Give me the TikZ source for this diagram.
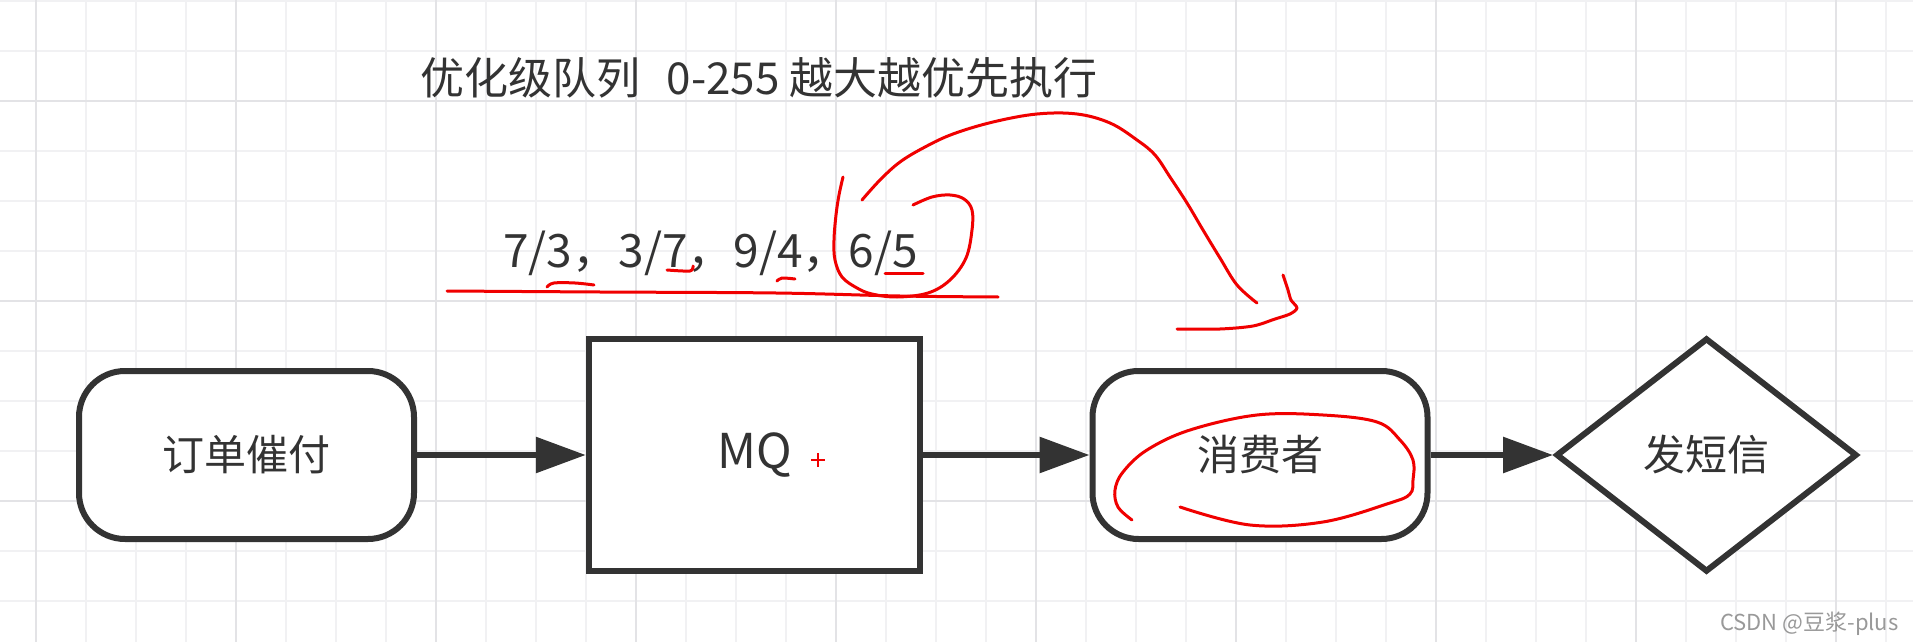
\documentclass[tikz,border=0pt]{standalone}
\usepackage{fontspec}
\setmainfont{Noto Sans CJK SC}
\usetikzlibrary{arrows.meta,shapes.geometric}
\definecolor{ink}{HTML}{333333}
\definecolor{gridminor}{HTML}{F1F1F3}
\definecolor{gridmajor}{HTML}{E3E3E6}
\definecolor{penred}{HTML}{F00000}
\definecolor{markgray}{HTML}{999999}
\begin{document}
\begin{tikzpicture}[x=0.5pt,y=-0.5pt,
  every node/.style={inner sep=0pt, text=ink},
  bigtext/.style={font=\fontsize{21pt}{25pt}\selectfont},
  term/.style={draw=ink, line width=3pt, fill=white, rounded corners=23pt,
    minimum width=167.5pt, minimum height=84pt, bigtext},
  box/.style={draw=ink, line width=3pt, fill=white,
    minimum width=165.75pt, minimum height=116.25pt, bigtext},
  dec/.style={diamond, draw=ink, line width=3pt, fill=white,
    minimum width=150.5pt, minimum height=117pt, bigtext},
  flow/.style={draw=ink, line width=3pt, -{Triangle[length=25pt,width=17.5pt]}},
  pen/.style={draw=penred, line width=1.5pt, line cap=round, line join=round},
  minorline/.style={draw=gridminor, line width=0.85pt},
  majorline/.style={draw=gridmajor, line width=1pt},
]
\useasboundingbox (0,0) rectangle (1913,642);
\fill[white] (0,0) rectangle (1913,642);
% grid
\foreach \x in {36,86,...,1886} \draw[minorline] (\x,0) -- (\x,642);
\foreach \y in {1,51,...,601} \draw[minorline] (0,\y) -- (1913,\y);
\foreach \x in {36,236,...,1836} \draw[majorline] (\x,0) -- (\x,642);
\foreach \y in {101,301,501} \draw[majorline] (0,\y) -- (1913,\y);

% texts
\node[anchor=base west, font=\fontsize{22pt}{26pt}\selectfont] (title) at (420,95) {优化级队列\hspace{0.6em}0-255 越大越优先执行};
\node[anchor=base west, font=\fontsize{23pt}{27pt}\selectfont] (seq) at (503,267) {7/3，3/7，9/4，6/5};

% nodes
\node[term] (pay) at (246.5,455) {订单催付};
\node[box, font=\fontsize{24pt}{28pt}\selectfont] (mq) at (754.5,455) {MQ};
\node[term] (cons) at (1260,455) {消费者};
\node[dec] (sms) at (1706.5,455) {发短信};

% connectors
\draw[flow] (pay) -- (mq);
\draw[flow] (mq) -- (cons);
\draw[flow] (cons) -- (sms);

% small red plus in MQ
\draw[draw=penred, line width=1pt] (811,460) -- (825,460) (818,453) -- (818,467);

% red annotations
\draw[pen] plot[smooth, tension=0.6] coordinates {(447,291) (600,292) (776,293) (900,296) (998,297)};
\draw[pen] plot[smooth, tension=0.6] coordinates {(547,287) (554,283) (575,283) (594,285)};
\draw[pen] plot[smooth, tension=0.5] coordinates {(667,270) (690,271) (693,266)};
\draw[pen] plot[smooth, tension=0.5] coordinates {(777,281) (782,278) (795,279)};
\draw[pen] (885,273) -- (923,273);
\draw[pen] plot[smooth, tension=0.6] coordinates {(843,177) (839,195) (836,215) (834,240) (835,260) (842,277) (857,288) (872,294) (897,297) (928,293) (950,280) (966,258) (972,230) (972,210) (964,199) (950,195) (932,197) (913,205)};
\draw[pen] plot[smooth, tension=0.6] coordinates {(862,200) (880,180) (900,162) (925,147) (953,134) (993,122) (1037,114) (1077,114) (1110,123) (1137,140) (1155,155) (1170,177) (1187,203) (1203,230) (1220,258) (1237,285) (1257,303)};
\draw[pen] plot[smooth, tension=0.5] coordinates {(1283,275) (1288,290) (1291,300) (1297,308) (1290,314) (1275,319) (1253,326) (1220,329) (1177,329)};
\draw[pen] plot[smooth, tension=0.6] coordinates {(1132,520) (1118,507) (1115,490) (1123,472) (1147,450) (1190,430) (1257,415) (1323,415) (1377,422) (1400,440) (1413,460) (1413,480) (1410,494) (1390,503) (1323,522) (1250,525) (1180,507)};

% watermark
\node[anchor=base east, text=markgray, font=\fontsize{11pt}{13pt}\selectfont] (wm) at (1899,630) {CSDN @豆浆-plus};
\end{tikzpicture}
\end{document}
